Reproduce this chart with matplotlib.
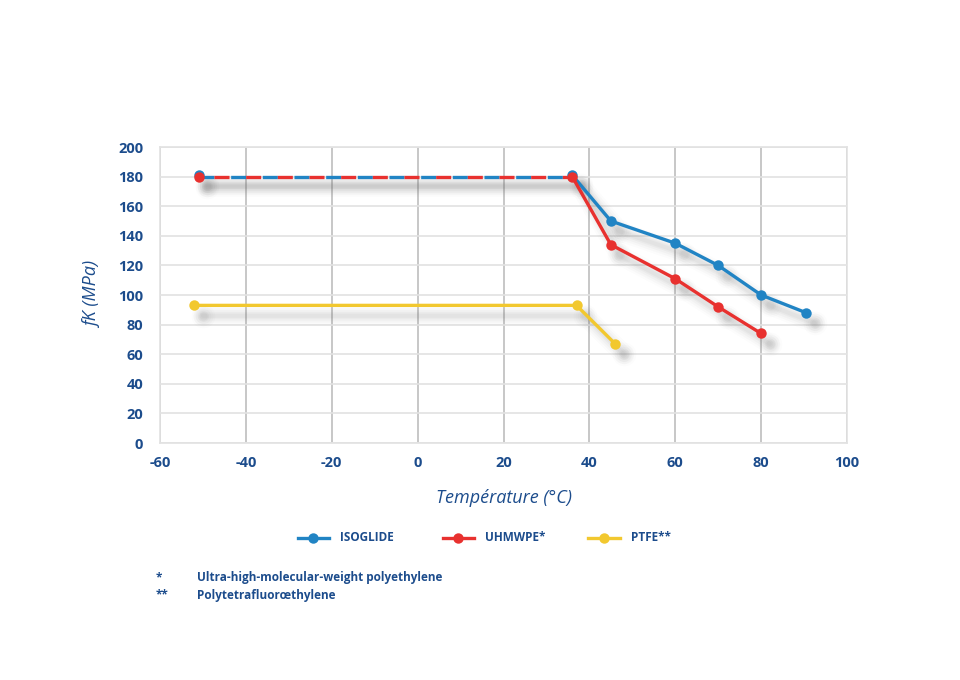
import matplotlib.pyplot as plt
import numpy as np

# data
iso_x = [-51, 36, 45, 60, 70, 80, 90.5]
iso_y = [181, 181, 150, 135, 120, 100, 88]
uhm_x = [-51, 36, 45, 60, 70, 80]
uhm_y = [180, 180, 134, 111, 92, 74]
ptfe_x = [-52, 37, 46]
ptfe_y = [93, 93, 67]

x_ticks = [-60, -40, -20, 0, 20, 40, 60, 80, 100]
y_ticks = [0, 20, 40, 60, 80, 100, 120, 140, 160, 180, 200]

BLUE = "#2184c4"
RED = "#e8312f"
YELLOW = "#f2c82f"
TXT = "#1c4c8c"

plt.rcParams["font.family"] = ["Open Sans", "DejaVu Sans"]

fig = plt.figure(figsize=(9.6, 6.8), dpi=100)
ax = fig.add_axes([0.1667, 0.3485, 0.7156, 0.4353])
ax.set_xlim(-60, 100)
ax.set_ylim(0, 200)


def shadow(x, y):
    # fake blurred drop shadow: stacked translucent grey lines, shifted right/down
    x = np.array(x, dtype=float) + 2
    y = np.array(y, dtype=float) - 7
    for lw, a in [(14, 0.02), (11, 0.03), (8, 0.04), (5, 0.05), (3, 0.05)]:
        ax.plot(x, y, color="#707070", lw=lw, alpha=a, solid_capstyle="round",
                zorder=2)
        ax.plot(x, y, "o", ms=lw + 3, color="#707070", alpha=a, mec="none",
                zorder=2)


shadow(iso_x, iso_y)
shadow(uhm_x, uhm_y)
shadow(ptfe_x, ptfe_y)

# dashed part shared by ISOGLIDE and UHMWPE
ax.plot(iso_x[:2], [180, 180], color=BLUE, lw=2.4, zorder=3,
        linestyle=(0, (4.5, 5)))
ax.plot(uhm_x[:2], [180, 180], color=RED, lw=2.4, zorder=3,
        linestyle=(5, (4.5, 5)))

ax.plot(iso_x[1:], iso_y[1:], color=BLUE, lw=2.4, zorder=4)
ax.plot(uhm_x[1:], uhm_y[1:], color=RED, lw=2.4, zorder=4)
ax.plot(ptfe_x, ptfe_y, color=YELLOW, lw=2.4, zorder=4)

ax.plot(iso_x, iso_y, "o", color=BLUE, ms=7.5, mec="none", zorder=5)
ax.plot(uhm_x, uhm_y, "o", color=RED, ms=7.5, mec="none", zorder=5)
ax.plot(ptfe_x, ptfe_y, "o", color=YELLOW, ms=7.5, mec="none", zorder=5)

ax.set_xticks(x_ticks)
ax.set_yticks(y_ticks)
ax.set_xticklabels([str(v) for v in x_ticks], fontweight="bold", color=TXT,
                   fontsize=10.5)
ax.set_yticklabels([str(v) for v in y_ticks], fontweight="bold", color=TXT,
                   fontsize=10.5)
ax.tick_params(axis="x", length=0, pad=9)
ax.tick_params(axis="y", length=0, pad=12)
ax.grid(axis="y", color="#e2e2e2", lw=1.2, zorder=0)
ax.grid(axis="x", color="#bdbdbd", lw=1.2, zorder=0)
for s in ax.spines.values():
    s.set_color("#e2e2e2")
    s.set_linewidth(1.2)

ax.set_xlabel("Température (°C)", fontstyle="italic", color=TXT, fontsize=13,
              labelpad=14)
ax.set_ylabel("fK (MPa)", fontstyle="italic", color=TXT, fontsize=13,
              labelpad=12)

# legend drawn by hand below the plot
leg = [("ISOGLIDE", BLUE, 0.310), ("UHMWPE*", RED, 0.461), ("PTFE**", YELLOW, 0.613)]
for name, col, x0 in leg:
    fig.add_artist(plt.Line2D([x0, x0 + 0.033], [0.209, 0.209], color=col,
                              lw=2.4, transform=fig.transFigure))
    fig.add_artist(plt.Line2D([x0 + 0.0165], [0.209], marker="o", ms=7.5,
                              color=col, mec="none", transform=fig.transFigure))
    fig.text(x0 + 0.044, 0.209, name, color=TXT, fontweight="bold", fontsize=8.5,
             va="center")

fig.text(0.162, 0.150, "*", color=TXT, fontweight="bold", fontsize=8.5, va="center")
fig.text(0.162, 0.125, "**", color=TXT, fontweight="bold", fontsize=8.5, va="center")
fig.text(0.205, 0.150, "Ultra-high-molecular-weight polyethylene", color=TXT,
         fontweight="bold", fontsize=8.5, va="center")
fig.text(0.205, 0.125, "Polytetrafluorœthylene", color=TXT,
         fontweight="bold", fontsize=8.5, va="center")

fig.savefig("out.png", dpi=100)
